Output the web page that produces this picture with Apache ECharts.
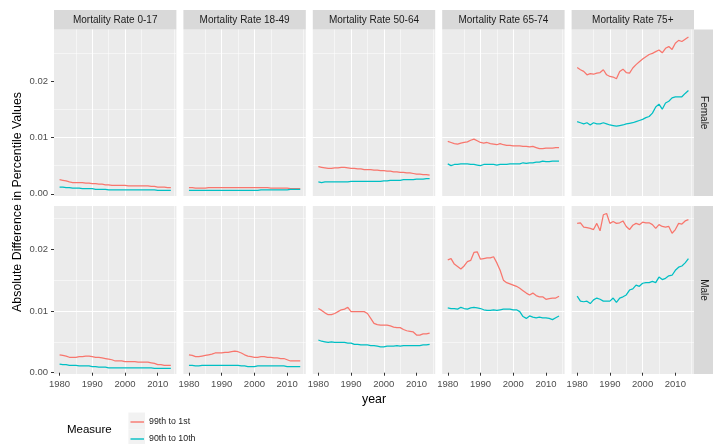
<!DOCTYPE html>
<html><head><meta charset="utf-8">
<script src="https://cdn.jsdelivr.net/npm/echarts@6/dist/echarts.min.js"></script>
<style>html,body{margin:0;padding:0;background:#fff}#c{width:717px;height:444px}</style>
</head><body><div id="c"></div>
<script>
const years = [1980,1981,1982,1983,1984,1985,1986,1987,1988,1989,1990,1991,1992,1993,1994,1995,1996,1997,1998,1999,2000,2001,2002,2003,2004,2005,2006,2007,2008,2009,2010,2011,2012,2013,2014];
const ageGroups = ['Mortality Rate 0-17','Mortality Rate 18-49','Mortality Rate 50-64','Mortality Rate 65-74','Mortality Rate 75+'];
const sexes = ['Female','Male'];
const measures = ['99th to 1st','90th to 10th'];
const xTickLabels = [1980,1990,2000,2010];
const yTickLabels = [0,0.01,0.02];

// Female
const f0_17_99 = [0.0025,0.0024,0.0023,0.0021,0.0020,0.0020,0.0020,0.0020,0.0019,0.0019,0.0018,0.0018,0.0017,0.0017,0.0016,0.0016,0.0015,0.0015,0.0015,0.0015,0.0015,0.0014,0.0014,0.0014,0.0014,0.0014,0.0014,0.0014,0.0013,0.0013,0.0012,0.0012,0.0012,0.0011,0.0011];
const f0_17_90 = [0.0012,0.0012,0.0011,0.0011,0.0010,0.0010,0.0010,0.0009,0.0009,0.0009,0.0009,0.0008,0.0008,0.0008,0.0008,0.0007,0.0007,0.0007,0.0007,0.0007,0.0007,0.0007,0.0007,0.0007,0.0007,0.0007,0.0007,0.0007,0.0007,0.0007,0.0006,0.0006,0.0006,0.0006,0.0006];
const f18_49_99 = [0.0011,0.0011,0.0010,0.0010,0.0010,0.0010,0.0011,0.0011,0.0011,0.0011,0.0011,0.0011,0.0011,0.0011,0.0011,0.0011,0.0011,0.0011,0.0011,0.0011,0.0011,0.0011,0.0011,0.0011,0.0011,0.0010,0.0010,0.0010,0.0010,0.0010,0.0010,0.0009,0.0009,0.0009,0.0009];
const f18_49_90 = [0.0006,0.0006,0.0006,0.0006,0.0006,0.0006,0.0006,0.0006,0.0006,0.0006,0.0006,0.0006,0.0006,0.0006,0.0006,0.0006,0.0006,0.0006,0.0006,0.0006,0.0006,0.0006,0.0007,0.0007,0.0007,0.0007,0.0007,0.0007,0.0007,0.0007,0.0007,0.0008,0.0008,0.0008,0.0008];
const f50_64_99 = [0.0048,0.0047,0.0046,0.0045,0.0045,0.0046,0.0046,0.0047,0.0047,0.0046,0.0045,0.0045,0.0044,0.0044,0.0043,0.0043,0.0043,0.0042,0.0042,0.0041,0.0041,0.0040,0.0040,0.0039,0.0039,0.0038,0.0038,0.0037,0.0037,0.0036,0.0035,0.0035,0.0034,0.0034,0.0033];
const f50_64_90 = [0.0021,0.0020,0.0021,0.0021,0.0021,0.0021,0.0021,0.0021,0.0021,0.0021,0.0022,0.0022,0.0022,0.0022,0.0022,0.0022,0.0022,0.0022,0.0022,0.0022,0.0023,0.0023,0.0024,0.0024,0.0024,0.0024,0.0025,0.0025,0.0025,0.0025,0.0026,0.0026,0.0026,0.0027,0.0027];
const f65_74_99 = [0.0093,0.0091,0.0089,0.0088,0.0090,0.0091,0.0092,0.0095,0.0097,0.0094,0.0091,0.0090,0.0091,0.0089,0.0088,0.0087,0.0089,0.0087,0.0086,0.0086,0.0085,0.0085,0.0085,0.0084,0.0084,0.0083,0.0084,0.0082,0.0080,0.0080,0.0081,0.0081,0.0081,0.0082,0.0082];
const f65_74_90 = [0.0053,0.0050,0.0052,0.0052,0.0053,0.0053,0.0053,0.0052,0.0052,0.0051,0.0050,0.0052,0.0052,0.0052,0.0052,0.0051,0.0052,0.0052,0.0052,0.0053,0.0053,0.0053,0.0053,0.0055,0.0054,0.0055,0.0055,0.0056,0.0056,0.0058,0.0057,0.0057,0.0058,0.0058,0.0058];
const f75_99 = [0.0224,0.0220,0.0217,0.0211,0.0213,0.0212,0.0214,0.0215,0.0220,0.0211,0.0208,0.0207,0.0204,0.0217,0.0221,0.0215,0.0214,0.0223,0.0229,0.0234,0.0239,0.0243,0.0247,0.0249,0.0252,0.0255,0.0250,0.0258,0.0261,0.0256,0.0267,0.0272,0.0270,0.0274,0.0278];
const f75_90 = [0.0128,0.0126,0.0124,0.0126,0.0122,0.0126,0.0124,0.0124,0.0126,0.0124,0.0122,0.0121,0.0120,0.0121,0.0122,0.0124,0.0125,0.0126,0.0128,0.0130,0.0132,0.0135,0.0137,0.0143,0.0154,0.0159,0.0150,0.0161,0.0164,0.0170,0.0172,0.0172,0.0172,0.0178,0.0183];

// Male
const m0_17_99 = [0.0029,0.0028,0.0027,0.0025,0.0025,0.0025,0.0026,0.0026,0.0027,0.0027,0.0026,0.0025,0.0025,0.0024,0.0023,0.0022,0.0021,0.0019,0.0019,0.0019,0.0018,0.0018,0.0018,0.0018,0.0017,0.0017,0.0017,0.0017,0.0016,0.0015,0.0013,0.0013,0.0012,0.0012,0.0012];
const m0_17_90 = [0.0014,0.0013,0.0013,0.0012,0.0012,0.0012,0.0011,0.0011,0.0011,0.0011,0.0010,0.0010,0.0009,0.0009,0.0009,0.0008,0.0008,0.0008,0.0008,0.0008,0.0008,0.0008,0.0008,0.0008,0.0008,0.0008,0.0008,0.0008,0.0008,0.0007,0.0007,0.0007,0.0007,0.0007,0.0007];
const m18_49_99 = [0.0029,0.0028,0.0026,0.0026,0.0027,0.0028,0.0029,0.0030,0.0032,0.0032,0.0032,0.0033,0.0033,0.0034,0.0035,0.0034,0.0032,0.0029,0.0027,0.0026,0.0025,0.0025,0.0026,0.0026,0.0025,0.0025,0.0024,0.0024,0.0023,0.0023,0.0021,0.0019,0.0019,0.0019,0.0019];
const m18_49_90 = [0.0012,0.0012,0.0011,0.0011,0.0012,0.0012,0.0012,0.0012,0.0012,0.0012,0.0012,0.0012,0.0012,0.0012,0.0012,0.0012,0.0011,0.0011,0.0010,0.0010,0.0010,0.0011,0.0011,0.0011,0.0011,0.0011,0.0011,0.0011,0.0011,0.0011,0.0010,0.0010,0.0010,0.0010,0.0010];
const m50_64_99 = [0.0104,0.0101,0.0097,0.0094,0.0094,0.0096,0.0099,0.0102,0.0103,0.0106,0.0099,0.0099,0.0099,0.0099,0.0099,0.0096,0.0088,0.0080,0.0078,0.0077,0.0077,0.0077,0.0076,0.0074,0.0073,0.0073,0.0070,0.0068,0.0067,0.0066,0.0061,0.0061,0.0063,0.0063,0.0064];
const m50_64_90 = [0.0053,0.0051,0.0050,0.0049,0.0050,0.0049,0.0049,0.0049,0.0049,0.0048,0.0048,0.0046,0.0046,0.0045,0.0045,0.0045,0.0044,0.0044,0.0043,0.0042,0.0042,0.0043,0.0043,0.0043,0.0044,0.0043,0.0044,0.0044,0.0044,0.0044,0.0044,0.0044,0.0045,0.0045,0.0046];
const m65_74_99 = [0.0183,0.0185,0.0176,0.0172,0.0168,0.0173,0.0180,0.0182,0.0195,0.0196,0.0184,0.0185,0.0186,0.0186,0.0188,0.0178,0.0166,0.0150,0.0146,0.0144,0.0142,0.0140,0.0137,0.0133,0.0129,0.0126,0.0129,0.0125,0.0123,0.0123,0.0119,0.0120,0.0121,0.0121,0.0124];
const m65_74_90 = [0.0105,0.0104,0.0104,0.0103,0.0106,0.0104,0.0103,0.0105,0.0106,0.0105,0.0104,0.0102,0.0101,0.0101,0.0102,0.0101,0.0102,0.0103,0.0103,0.0103,0.0102,0.0102,0.0099,0.0091,0.0088,0.0092,0.0090,0.0089,0.0090,0.0089,0.0089,0.0088,0.0086,0.0089,0.0092];
const m75_99 = [0.0242,0.0243,0.0236,0.0235,0.0234,0.0232,0.0242,0.0230,0.0256,0.0258,0.0242,0.0245,0.0242,0.0243,0.0246,0.0237,0.0232,0.0239,0.0242,0.0240,0.0244,0.0243,0.0243,0.0240,0.0234,0.0240,0.0237,0.0236,0.0237,0.0226,0.0232,0.0242,0.0241,0.0246,0.0248];
const m75_90 = [0.0124,0.0116,0.0115,0.0116,0.0112,0.0118,0.0121,0.0119,0.0116,0.0116,0.0116,0.0121,0.0114,0.0121,0.0123,0.0126,0.0134,0.0136,0.0142,0.0140,0.0145,0.0146,0.0146,0.0148,0.0146,0.0155,0.0151,0.0153,0.0157,0.0158,0.0166,0.0171,0.0173,0.0178,0.0185];

const panelData = [
  [[f0_17_99,f0_17_90],[f18_49_99,f18_49_90],[f50_64_99,f50_64_90],[f65_74_99,f65_74_90],[f75_99,f75_90]],
  [[m0_17_99,m0_17_90],[m18_49_99,m18_49_90],[m50_64_99,m50_64_90],[m65_74_99,m65_74_90],[m75_99,m75_90]]
];

const FONT = 'Liberation Sans, Arial, Helvetica, sans-serif';
const colors = ['#F8766D','#00BFC4'];
const colLeft = [54,183.4,312.8,442.2,571.6];
const panelW = 122.4;
const rowTop = [29.5,206];
const rowH = [166.5,168];
const yLim = [[-0.00039,0.02913],[-0.00021,0.02702]];
const xLim = [1978.3,2015.7];

const grids = [], xAxes = [], yAxes = [], series = [], graphics = [];
for (let r = 0; r < 2; r++) {
  for (let c = 0; c < 5; c++) {
    const g = r*5 + c;
    grids.push({left: colLeft[c], top: rowTop[r], width: panelW, height: rowH[r], show: true, backgroundColor: '#EBEBEB', borderWidth: 0});
    xAxes.push({gridIndex: g, type: 'value', min: xLim[0], max: xLim[1], minInterval: 10, maxInterval: 10, position: 'bottom',
      axisLine: {show: false},
      axisTick: {show: r === 1, customValues: xTickLabels, length: 3, lineStyle: {color: '#333333', width: 1}},
      axisLabel: {show: r === 1, customValues: xTickLabels, margin: 5, color: '#4D4D4D', fontSize: 9.5, fontFamily: FONT, formatter: v => String(v)},
      splitLine: {show: true, showMinLine: false, showMaxLine: false, lineStyle: {color: '#FFFFFF', width: 1.1}}
    });
    xAxes.push({gridIndex: g, type: 'value', min: xLim[0]-5, max: xLim[1]-5, minInterval: 10, maxInterval: 10, position: 'top',
      axisLine: {show: false}, axisTick: {show: false}, axisLabel: {show: false},
      splitLine: {show: true, showMinLine: false, showMaxLine: false, lineStyle: {color: '#FFFFFF', width: 0.5}}
    });
    yAxes.push({gridIndex: g, type: 'value', min: yLim[r][0], max: yLim[r][1], minInterval: 0.01, maxInterval: 0.01, position: 'left',
      axisLine: {show: false},
      axisTick: {show: c === 0, customValues: yTickLabels, length: 3, lineStyle: {color: '#333333', width: 1}},
      axisLabel: {show: c === 0, customValues: yTickLabels, margin: 6, color: '#4D4D4D', fontSize: 9.5, fontFamily: FONT, formatter: v => Number(v).toFixed(2)},
      splitLine: {show: true, showMinLine: false, showMaxLine: false, lineStyle: {color: '#FFFFFF', width: 1.1}}
    });
    yAxes.push({gridIndex: g, type: 'value', min: yLim[r][0]-0.005, max: yLim[r][1]-0.005, minInterval: 0.01, maxInterval: 0.01, position: 'right',
      axisLine: {show: false}, axisTick: {show: false}, axisLabel: {show: false},
      splitLine: {show: true, showMinLine: false, showMaxLine: false, lineStyle: {color: '#FFFFFF', width: 0.5}}
    });
    for (let m = 0; m < 2; m++) {
      const vals = panelData[r][c][m];
      series.push({
        type: 'line', name: measures[m], xAxisIndex: 2*g, yAxisIndex: 2*g,
        data: years.map((y, i) => [y, vals[i]]),
        symbol: 'none', smooth: false, z: 3,
        lineStyle: {color: colors[m], width: 1.25}, itemStyle: {color: colors[m]}
      });
    }
  }
}

// Column strips
for (let c = 0; c < 5; c++) {
  graphics.push({type: 'rect', shape: {x: colLeft[c], y: 10, width: panelW, height: 19.5}, style: {fill: '#D9D9D9'}, silent: true});
  graphics.push({type: 'text', x: colLeft[c] + panelW/2, y: 19.8, silent: true,
    style: {text: ageGroups[c], fill: '#1A1A1A', font: '10px ' + FONT, align: 'center', verticalAlign: 'middle'}});
}
// Row strips
for (let r = 0; r < 2; r++) {
  graphics.push({type: 'rect', shape: {x: 694, y: rowTop[r], width: 19, height: rowH[r]}, style: {fill: '#D9D9D9'}, silent: true});
  graphics.push({type: 'text', x: 703.5, y: rowTop[r] + rowH[r]/2, rotation: -Math.PI/2, silent: true,
    style: {text: sexes[r], fill: '#1A1A1A', font: '10px ' + FONT, align: 'center', verticalAlign: 'middle'}});
}
// Axis titles
graphics.push({type: 'text', x: 18, y: 202, rotation: Math.PI/2, silent: true,
  style: {text: 'Absolute Difference in Percentile Values', fill: '#000000', font: '12.4px ' + FONT, align: 'center', verticalAlign: 'middle'}});
graphics.push({type: 'text', x: 374, y: 399.5, silent: true,
  style: {text: 'year', fill: '#000000', font: '12.4px ' + FONT, align: 'center', verticalAlign: 'middle'}});
// Legend title and key backgrounds
graphics.push({type: 'text', x: 67, y: 430, silent: true,
  style: {text: 'Measure', fill: '#000000', font: '11.5px ' + FONT, align: 'left', verticalAlign: 'middle'}});
graphics.push({type: 'rect', shape: {x: 128.4, y: 412.5, width: 16.6, height: 17}, style: {fill: '#F2F2F2'}, silent: true, z: -1});
graphics.push({type: 'rect', shape: {x: 128.4, y: 429.5, width: 16.6, height: 17}, style: {fill: '#F2F2F2'}, silent: true, z: -1});

const legendCommon = {orient: 'vertical', left: 130.5, padding: 0, itemWidth: 13.5, itemHeight: 1.4, icon: 'rect',
  textStyle: {fontSize: 8.8, lineHeight: 12, color: '#1A1A1A', fontFamily: FONT}, selectedMode: false};

const chart = echarts.init(document.getElementById('c'), null, {renderer: 'canvas'});
chart.setOption({
  animation: false,
  backgroundColor: '#FFFFFF',
  grid: grids, xAxis: xAxes, yAxis: yAxes, series: series,
  legend: [
    Object.assign({}, legendCommon, {data: [measures[0]], top: 416}),
    Object.assign({}, legendCommon, {data: [measures[1]], top: 433})
  ],
  graphic: graphics
});
</script></body></html>
